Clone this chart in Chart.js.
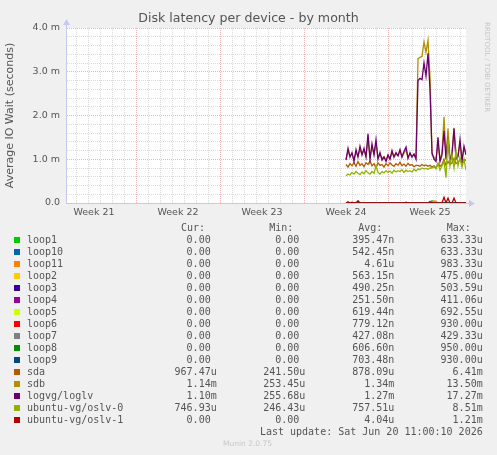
<!DOCTYPE html>
<html>
<head>
<meta charset="utf-8">
<script src="https://cdn.jsdelivr.net/npm/chart.js@4.4.1/dist/chart.umd.min.js"></script>
<style>
  html, body { margin: 0; padding: 0; background: #f0f0f0; }
  #wrap { position: relative; width: 497px; height: 455px; overflow: hidden; background: #f0f0f0; }
  #chartBox { position: absolute; left: 0; top: 0; width: 497px; height: 230px; }
  .mono { position: absolute; font-family: 'DejaVu Sans Mono', monospace; font-size: 10px; line-height: 12px; color: #555; white-space: pre; }
  .sq { position: absolute; width: 6px; height: 6px; }
  #rrd { position: absolute; left: 483px; top: 22px; writing-mode: vertical-rl; font-family: 'DejaVu Sans', sans-serif; font-size: 7px; color: #c4c4c4; white-space: nowrap; }
  #munin { position: absolute; left: 0; width: 495px; top: 438px; text-align: center; font-family: 'DejaVu Sans', sans-serif; font-size: 7.5px; line-height: 12px; color: #c8c8c8; }
</style>
</head>
<body>
<div id="wrap">
  <div id="chartBox"><canvas id="c"></canvas></div>
  <div id="rrd">RRDTOOL / TOBI OETIKER</div>
  <div id="legend"></div>
  <div id="munin">Munin 2.0.75</div>
</div>
<script>
// ---- data (values in milliseconds of IO wait) ----
const sampleHours = [560,564,568,572,576,580,584,588,592,596,600,604,608,612,616,620,624,628,632,636,640,644,648,652,656,660,664,668,672,676,680,684,688,692,696,700,704,708,712,716,720,724,728,732,736,740,744,748,752,756,760,764,768,772,776,780,784,788,792,796,800];

const weekLabels = ['Week 21','Week 22','Week 23','Week 24','Week 25'];
const weekLabelHours = [56,224,392,560,728];
const weekStartHours = [140,308,476,644];
const yTickLabels = ['0.0','1.0 m','2.0 m','3.0 m','4.0 m'];

const seriesNames = ['loop1','loop10','loop11','loop2','loop3','loop4','loop5','loop6','loop7','loop8','loop9','sda','sdb','logvg/loglv','ubuntu-vg/oslv-0','ubuntu-vg/oslv-1'];
const seriesColors = ['#00CC00','#0066B3','#FF8000','#FFCC00','#330099','#990099','#CCFF00','#FF0000','#808080','#008F00','#00487D','#B35A00','#B38F00','#6B006B','#8FB300','#B30000'];

const loop1  = [0,0,0,0,0,0,0,0,0,0,0,0,0,0,0,0,0,0,0,0,0,0,0,0,0,0,0,0,0,0,0,0,0,0,0,0,0,0,0,0,0,0,0,0.05,0,0,0,0,0,0,0,0,0,0,0,0,0,0,0,0,0];
const loop10 = [0,0,0,0,0,0,0,0,0,0,0,0,0,0,0,0,0,0,0,0,0,0,0,0,0,0,0,0,0,0,0,0,0,0,0,0,0,0,0,0,0,0,0,0,0,0,0,0,0,0,0,0,0,0,0,0,0,0,0,0,0];
const loop11 = [0,0,0,0,0,0,0,0,0,0,0,0,0,0,0,0,0,0,0,0,0,0,0,0,0,0,0,0,0,0,0,0,0,0,0,0,0,0,0,0,0,0,0,0,0.05,0.04,0,0,0,0,0,0,0,0,0,0,0,0,0,0,0];
const loop2  = [0,0,0,0,0,0,0,0,0,0,0,0,0,0,0,0,0,0,0,0,0,0,0,0,0,0,0,0,0,0,0,0,0,0,0,0,0,0,0,0,0,0,0,0,0,0,0,0,0,0,0,0,0,0,0,0,0,0,0,0,0];
const loop3  = [0,0,0,0,0,0,0,0,0,0,0,0,0,0,0,0,0,0,0,0,0,0,0,0,0,0,0,0,0,0,0,0,0,0,0,0,0,0,0,0,0,0,0,0,0,0,0,0,0,0,0,0,0,0,0,0,0,0,0,0,0];
const loop4  = [0,0,0,0,0,0,0,0,0,0,0,0,0,0,0,0,0,0,0,0,0,0,0,0,0,0,0,0,0,0,0,0,0,0,0,0,0,0,0,0,0,0,0,0,0,0,0,0,0,0,0,0,0,0,0,0,0,0,0,0,0];
const loop5  = [0,0,0,0,0,0,0,0,0,0,0,0,0,0,0,0,0,0,0,0,0,0,0,0,0,0,0,0,0,0,0,0,0,0,0,0,0,0,0,0,0,0,0,0,0,0,0,0,0,0,0,0,0,0,0,0,0,0,0,0,0];
const loop6  = [0,0,0,0,0,0,0,0,0,0,0,0,0,0,0,0,0,0,0,0,0,0,0,0,0,0,0,0,0,0,0,0,0,0,0,0,0,0,0,0,0,0,0,0,0,0,0,0,0,0,0,0,0,0,0,0,0,0,0,0,0];
const loop7  = [0,0,0,0,0,0,0,0,0,0,0,0,0,0,0,0,0,0,0,0,0,0,0,0,0,0,0,0,0,0,0,0,0,0,0,0,0,0,0,0,0,0,0,0,0,0,0,0,0,0,0,0,0,0,0,0,0,0,0,0,0];
const loop8  = [0,0,0,0,0,0,0,0,0,0,0,0,0,0,0,0,0,0,0,0,0,0,0,0,0,0,0,0,0,0,0,0,0,0,0,0,0,0,0,0,0,0,0.04,0,0,0,0,0,0,0,0,0,0,0,0,0,0,0,0,0,0];
const loop9  = [0,0,0,0,0,0,0,0,0,0,0,0,0,0,0,0,0,0,0,0,0,0,0,0,0,0,0,0,0,0,0,0,0,0,0,0,0,0,0,0,0,0,0,0,0,0,0,0,0,0,0,0,0,0,0,0,0,0,0,0,0];
const sda    = [0.88,0.82,0.90,0.85,0.92,0.84,0.95,0.86,0.90,0.83,0.92,0.88,0.96,0.85,0.90,0.80,0.92,0.86,0.88,0.82,0.90,0.85,0.92,0.87,0.84,0.90,0.86,0.93,0.85,0.89,0.84,0.91,0.86,0.88,0.83,0.86,
                0.86,0.84,0.88,0.85,0.87,0.84,0.86,
                0.82,0.85,0.80,0.90,0.84,0.88,1.00,0.86,0.95,0.88,0.92,1.02,0.90,0.94,0.98,0.90,0.99,0.97];
const sdb    = [1.00,1.18,1.08,1.12,1.00,1.15,1.08,1.22,1.12,1.20,1.08,1.45,1.04,1.28,1.12,1.35,1.04,1.12,1.02,1.06,0.98,1.08,1.02,1.15,1.06,1.12,1.08,1.18,1.06,1.14,1.22,1.05,1.12,1.06,1.10,1.04,
                3.30,3.33,3.35,3.68,3.45,3.72,2.90,
                1.10,1.05,1.00,1.35,1.00,1.15,1.97,1.05,1.70,1.00,1.15,1.72,1.05,1.10,1.35,1.00,1.25,1.14];
const loglv  = [0.98,1.25,1.05,1.15,0.95,1.22,1.05,1.30,1.10,1.25,1.05,1.58,1.00,1.35,1.10,1.45,1.00,1.15,0.98,1.05,0.95,1.10,1.00,1.20,1.05,1.15,1.08,1.22,1.05,1.18,1.28,1.02,1.15,1.05,1.12,1.00,
                2.80,2.85,2.82,3.20,2.90,3.42,2.60,
                1.15,1.00,0.95,1.50,0.95,1.10,1.65,1.00,1.50,0.95,1.10,1.70,1.00,1.05,1.45,0.95,1.30,1.10];
const oslv0  = [0.62,0.66,0.64,0.70,0.66,0.72,0.68,0.65,0.71,0.67,0.74,0.69,0.66,0.72,0.68,0.85,0.70,0.66,0.72,0.69,0.74,0.70,0.73,0.68,0.75,0.71,0.74,0.72,0.76,0.70,0.75,0.72,0.74,0.71,0.77,0.73,
                0.78,0.76,0.80,0.78,0.79,0.77,0.80,
                0.80,0.83,0.78,0.90,0.75,0.85,0.95,0.58,1.50,0.85,1.10,0.80,1.20,0.85,1.05,0.82,1.00,0.75];
const oslv1  = [0,0.03,0,0.02,0,0,0.05,0,0,0,0,0,0,0,0,0,0,0,0,0,0,0,0,0,0,0,0,0,0,0,0.02,0,0,0,0,0,0,0,0,0,0,0,0,0,0,0,0,0,0,0.13,0,0.11,0,0,0.11,0,0,0,0,0,0];

const seriesValues = [loop1,loop10,loop11,loop2,loop3,loop4,loop5,loop6,loop7,loop8,loop9,sda,sdb,loglv,oslv0,oslv1];

const curText = ['0.00','0.00','0.00','0.00','0.00','0.00','0.00','0.00','0.00','0.00','0.00','967.47u','1.14m','1.10m','746.93u','0.00'];
const minText = ['0.00','0.00','0.00','0.00','0.00','0.00','0.00','0.00','0.00','0.00','0.00','241.50u','253.45u','255.68u','246.43u','0.00'];
const avgText = ['395.47n','542.45n','4.61u','563.15n','490.25n','251.50n','619.44n','779.12n','427.08n','606.60n','703.48n','878.09u','1.34m','1.27m','757.51u','4.04u'];
const maxText = ['633.33u','633.33u','983.33u','475.00u','503.59u','411.06u','692.55u','930.00u','429.33u','950.00u','930.00u','6.41m','13.50m','17.27m','8.51m','1.21m'];
const lastUpdate = 'Last update: Sat Jun 20 11:00:10 2026';

// ---- legend (HTML text) ----
(function buildLegend() {
  const lg = document.getElementById('legend');
  const wrapW = 497;
  function add(text, cssLeft, cssRight, top) {
    const d = document.createElement('div');
    d.className = 'mono';
    d.textContent = text;
    d.style.top = top + 'px';
    if (cssLeft !== null) d.style.left = cssLeft + 'px';
    if (cssRight !== null) { d.style.right = (wrapW - cssRight) + 'px'; d.style.textAlign = 'right'; }
    lg.appendChild(d);
  }
  const fmt = s => /[0-9]$/.test(s) ? s + ' ' : s;
  const headerTop = 221.7;
  add('Cur:', 181, null, headerTop);
  add('Min:', 269.3, null, headerTop);
  add('Avg:', 358.3, null, headerTop);
  add('Max:', 446.7, null, headerTop);
  seriesNames.forEach((name, i) => {
    const top = headerTop + 12 * (i + 1);
    const sq = document.createElement('div');
    sq.className = 'sq';
    sq.style.left = '14px';
    sq.style.top = (top + 3) + 'px';
    sq.style.background = seriesColors[i];
    lg.appendChild(sq);
    add(name, 27, null, top);
    add(fmt(curText[i]), null, 216.7, top);
    add(fmt(minText[i]), null, 305.3, top);
    add(fmt(avgText[i]), null, 394.3, top);
    add(fmt(maxText[i]), null, 482.7, top);
  });
  add(lastUpdate, null, 482.7, headerTop + 12 * (seriesNames.length + 1));
})();

// ---- chart ----
const MAJOR = 'rgba(230,110,110,0.5)';
const MINOR = 'rgba(185,185,185,0.5)';
const AXIS = '#c8c8ee';

const xTicks = [];
for (let h = 8; h < 800; h += 12) xTicks.push(h);
const yTicks = [];
for (let k = 0; k <= 20; k++) yTicks.push(Math.round(k * 2) / 10);

const bgPlugin = {
  id: 'plotBg',
  beforeDraw(chart) {
    const {ctx, chartArea: a} = chart;
    ctx.save();
    ctx.fillStyle = '#ffffff';
    ctx.fillRect(a.left, a.top, a.right - a.left, a.bottom - a.top);
    ctx.restore();
  }
};
const arrowPlugin = {
  id: 'axisArrows',
  afterDraw(chart) {
    const {ctx, chartArea: a} = chart;
    ctx.save();
    ctx.strokeStyle = AXIS; ctx.fillStyle = AXIS; ctx.lineWidth = 1;
    ctx.beginPath(); ctx.moveTo(a.left + 0.5, a.top); ctx.lineTo(a.left + 0.5, a.top - 4); ctx.stroke();
    ctx.beginPath(); ctx.moveTo(a.left - 3, a.top - 3); ctx.lineTo(a.left + 4, a.top - 3); ctx.lineTo(a.left + 0.5, a.top - 9); ctx.closePath(); ctx.fill();
    ctx.beginPath(); ctx.moveTo(a.right, a.bottom + 0.5); ctx.lineTo(a.right + 4, a.bottom + 0.5); ctx.stroke();
    ctx.beginPath(); ctx.moveTo(a.right + 3, a.bottom - 3); ctx.lineTo(a.right + 3, a.bottom + 4); ctx.lineTo(a.right + 9, a.bottom + 0.5); ctx.closePath(); ctx.fill();
    ctx.restore();
  }
};

const datasets = seriesNames.map((name, i) => ({
  label: name,
  data: seriesValues[i].map((v, j) => ({x: sampleHours[j], y: v})),
  borderColor: seriesColors[i],
  backgroundColor: seriesColors[i],
  borderWidth: 1.3,
  pointRadius: 0,
  tension: 0,
  fill: false,
  order: -i
}));

new Chart(document.getElementById('c'), {
  type: 'line',
  data: { datasets },
  plugins: [bgPlugin, arrowPlugin],
  options: {
    responsive: true,
    maintainAspectRatio: false,
    animation: false,
    events: [],
    layout: { padding: { left: 0, right: 0, top: 0, bottom: 0 }, autoPadding: false },
    plugins: {
      legend: { display: false },
      tooltip: { enabled: false },
      title: {
        display: true,
        text: 'Disk latency per device - by month',
        color: '#555',
        font: { family: 'DejaVu Sans', size: 12.6, weight: 'normal' },
        padding: { top: 11, bottom: 1.9 }
      }
    },
    scales: {
      x: {
        type: 'linear',
        min: 0, max: 800,
        afterBuildTicks: s => { s.ticks = xTicks.map(v => ({value: v})); },
        afterFit: s => { s.height = 27; },
        border: { display: true, color: AXIS, width: 1, dash: [1, 1] },
        grid: {
          drawTicks: false,
          lineWidth: 1,
          color: c => {
            const v = c.tick ? c.tick.value : null;
            if (v === null) return 'rgba(0,0,0,0)';
            if (weekStartHours.includes(v)) return MAJOR;
            if ((v - 20) % 24 === 0) return MINOR;
            return 'rgba(0,0,0,0)';
          }
        },
        ticks: {
          autoSkip: false, maxRotation: 0, minRotation: 0, padding: 4,
          color: '#555',
          font: { family: 'DejaVu Sans', size: 9.5 },
          callback: v => { const k = weekLabelHours.indexOf(v); return k >= 0 ? weekLabels[k] : ''; }
        }
      },
      y: {
        type: 'linear',
        min: 0, max: 4,
        afterBuildTicks: s => { s.ticks = yTicks.map(v => ({value: v})); },
        afterFit: s => { s.width = 66; },
        border: { display: true, color: AXIS, width: 1, dash: [1, 1] },
        grid: {
          drawTicks: false,
          lineWidth: 1,
          color: c => {
            const v = c.tick ? c.tick.value : null;
            if (v === null || v === 0) return 'rgba(0,0,0,0)';
            if (Math.abs(v - Math.round(v)) < 1e-6) return MAJOR;
            return MINOR;
          }
        },
        ticks: {
          autoSkip: false, padding: 6,
          color: '#555',
          font: { family: 'DejaVu Sans', size: 9.5 },
          callback: v => (Math.abs(v - Math.round(v)) < 1e-6) ? yTickLabels[Math.round(v)] : ''
        },
        title: {
          display: true,
          text: 'Average IO Wait (seconds)',
          color: '#555',
          font: { family: 'DejaVu Sans', size: 11 },
          padding: { top: 4, bottom: 4 }
        }
      },
      yRight: {
        type: 'linear',
        position: 'right',
        min: 0, max: 1,
        afterFit: s => { s.width = 31; },
        grid: { display: false, drawTicks: false },
        border: { display: false },
        ticks: { display: false }
      }
    }
  }
});
</script>
</body>
</html>
